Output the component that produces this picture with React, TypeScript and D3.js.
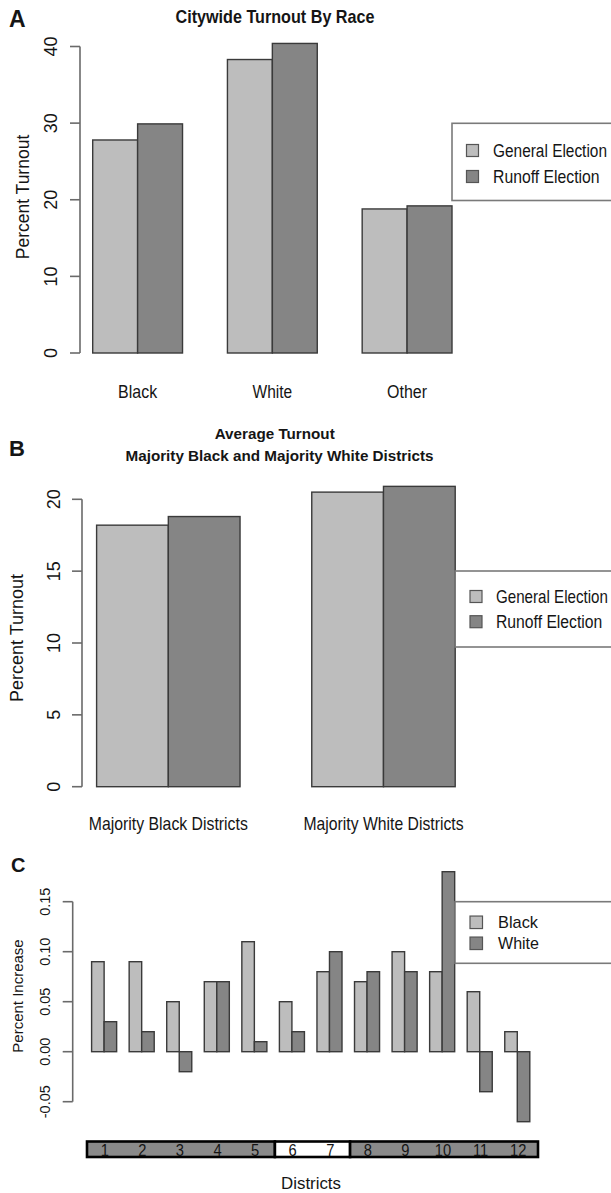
import React, { useLayoutEffect, useRef, useState } from "react";
import * as d3 from "d3";

// ---------- Panel A data ----------
const racesA = ["Black", "White", "Other"];
const generalA = [27.8, 38.3, 18.8];
const runoffA = [29.9, 40.4, 19.2];
const ticksA = [0, 10, 20, 30, 40];

// ---------- Panel B data ----------
const districtTypesB = ["Majority Black Districts", "Majority White Districts"];
const generalB = [18.2, 20.5];
const runoffB = [18.8, 20.9];
const ticksB = [0, 5, 10, 15, 20];

// ---------- Panel C data ----------
const districts = ["1", "2", "3", "4", "5", "6", "7", "8", "9", "10", "11", "12"];
const blackIncrease = [0.09, 0.09, 0.05, 0.07, 0.11, 0.05, 0.08, 0.07, 0.1, 0.08, 0.06, 0.02];
const whiteIncrease = [0.03, 0.02, -0.02, 0.07, 0.01, 0.02, 0.1, 0.08, 0.08, 0.18, -0.04, -0.07];
const ticksC = [-0.05, 0, 0.05, 0.1, 0.15];
const whiteStripDistricts = ["6", "7"];

const electionLegend = ["General Election", "Runoff Election"];
const raceLegend = ["Black", "White"];

const FONT = "'Liberation Sans', Arial, Helvetica, sans-serif";
const LIGHT = "#bdbdbd";
const DARK = "#858585";
const BAR_STROKE = "#3a3a3a";
const AXIS = "#6a6a6a";
const TEXT = "#151515";

// Horizontal text squeezed to a target width with a horizontal scale
function HText(p: any) {
  const ref = useRef<SVGTextElement>(null);
  const [s, setS] = useState(p.sx || 0.87);
  useLayoutEffect(() => {
    if (p.w && ref.current) {
      const n = ref.current.getComputedTextLength();
      if (n > 0) setS(p.w / n);
    }
  }, [p.w, p.children]);
  return (
    <g transform={`translate(${p.x},${p.y}) scale(${p.w ? s : p.sx || 1},1)`}>
      <text
        ref={ref}
        x={0}
        y={0}
        fontSize={p.size}
        fontWeight={p.bold ? "bold" : "normal"}
        textAnchor={p.anchor || "start"}
        fill={TEXT}
        fontFamily={FONT}
      >
        {p.children}
      </text>
    </g>
  );
}

function VText(p: any) {
  return (
    <text
      transform={`translate(${p.x},${p.y}) rotate(-90)`}
      fontSize={p.size}
      textAnchor="middle"
      fill={TEXT}
      fontFamily={FONT}
    >
      {p.children}
    </text>
  );
}

function YAxis(p: any) {
  const { scale, ticks, x, tickLen, labelX, size, fmt } = p;
  const [lo, hi] = d3.extent(ticks) as [number, number];
  return (
    <g>
      <line x1={x} x2={x} y1={scale(lo)} y2={scale(hi)} stroke={AXIS} strokeWidth={1.6} />
      {ticks.map((t: number) => (
        <g key={t}>
          <line x1={x - tickLen} x2={x} y1={scale(t)} y2={scale(t)} stroke={AXIS} strokeWidth={1.6} />
          <VText x={labelX} y={scale(t)} size={size}>
            {fmt ? fmt(t) : String(t)}
          </VText>
        </g>
      ))}
    </g>
  );
}

function Legend(p: any) {
  const { x, y0, y1, sqX, sq, rows, labels, textX, size, widths } = p;
  return (
    <g>
      <rect x={x} y={y0} width={700 - x} height={y1 - y0} fill="white" stroke="#7a7a7a" strokeWidth={1.6} />
      {labels.map((l: string, i: number) => (
        <g key={l}>
          <rect
            x={sqX}
            y={rows[i] - sq / 2}
            width={sq}
            height={sq}
            fill={i === 0 ? LIGHT : DARK}
            stroke="#555"
            strokeWidth={1.2}
          />
          <HText x={textX} y={rows[i] + size * 0.36} size={size} w={widths[i]}>
            {l}
          </HText>
        </g>
      ))}
    </g>
  );
}

function GroupedBars(p: any) {
  const { cats, a, b, outer, y } = p;
  const inner = d3.scaleBand().domain(["a", "b"]).range([0, outer.bandwidth()]);
  return (
    <g>
      {cats.map((c: string, i: number) =>
        [a[i], b[i]].map((v: number, j: number) => {
          const x0 = (outer(c) as number) + (inner(j === 0 ? "a" : "b") as number);
          const yv = y(v);
          const y0 = y(0);
          return (
            <rect
              key={c + j}
              x={x0}
              y={Math.min(yv, y0)}
              width={inner.bandwidth()}
              height={Math.abs(y0 - yv)}
              fill={j === 0 ? LIGHT : DARK}
              stroke={BAR_STROKE}
              strokeWidth={1.4}
            />
          );
        })
      )}
    </g>
  );
}

export default function App() {
  // Panel A scales
  const xA = d3.scaleBand().domain(racesA).range([92.7, 452]).paddingInner(1 / 3);
  const yA = d3.scaleLinear().domain([0, 40]).range([353, 46.5]);
  const labelWA = [39, 39.7, 40];

  // Panel B scales
  const xB = d3.scaleBand().domain(districtTypesB).range([96.6, 455.2]).paddingInner(1 / 3);
  const yB = d3.scaleLinear().domain([0, 20]).range([786.7, 499.3]);

  // Panel C scales
  const xC = d3.scaleBand().domain(districts).range([91.6, 529.8]).paddingInner(1 / 3);
  const yC = d3.scaleLinear().domain([-0.05, 0.15]).range([1101.7, 901.7]);
  const strip = d3.scaleBand().domain(districts).range([87, 538]);

  // runs of strip colour
  const runs: { start: string; end: string; white: boolean }[] = [];
  districts.forEach((d) => {
    const w = whiteStripDistricts.includes(d);
    const last = runs[runs.length - 1];
    if (last && last.white === w) last.end = d;
    else runs.push({ start: d, end: d, white: w });
  });

  return (
    <svg
      width={611}
      height={1193}
      style={{ position: "absolute", left: 0, top: 0, display: "block", background: "white" }}
    >
      <rect x={0} y={0} width={611} height={1193} fill="white" />

      {/* ---------------- Panel A ---------------- */}
      <HText x={9} y={27} size={23} bold>
        A
      </HText>
      <HText x={275} y={22.5} size={17.5} bold anchor="middle" w={199}>
        Citywide Turnout By Race
      </HText>
      <VText x={29} y={197} size={17.5}>
        Percent Turnout
      </VText>
      <YAxis scale={yA} ticks={ticksA} x={80} tickLen={10} labelX={57} size={18} />
      <GroupedBars cats={racesA} a={generalA} b={runoffA} outer={xA} y={yA} />
      {racesA.map((r, i) => (
        <HText key={r} x={(xA(r) as number) + xA.bandwidth() / 2} y={398} size={18.5} anchor="middle" w={labelWA[i]}>
          {r}
        </HText>
      ))}
      <Legend
        x={452}
        y0={123.3}
        y1={200.5}
        sqX={466.5}
        sq={12}
        rows={[150.5, 176.5]}
        labels={electionLegend}
        textX={493}
        size={18}
        widths={[114, 106.7]}
      />

      {/* ---------------- Panel B ---------------- */}
      <HText x={9} y={456} size={22} bold>
        B
      </HText>
      <HText x={274.7} y={439.3} size={15.5} bold anchor="middle" w={120}>
        Average Turnout
      </HText>
      <HText x={279.5} y={460.7} size={15.5} bold anchor="middle" w={308}>
        Majority Black and Majority White Districts
      </HText>
      <VText x={23} y={638} size={18}>
        Percent Turnout
      </VText>
      <YAxis scale={yB} ticks={ticksB} x={82} tickLen={10} labelX={60} size={18} />
      <GroupedBars cats={districtTypesB} a={generalB} b={runoffB} outer={xB} y={yB} />
      {districtTypesB.map((c, i) => (
        <HText key={c} x={(xB(c) as number) + xB.bandwidth() / 2} y={830} size={18} anchor="middle" w={i === 0 ? 159 : 160}>
          {c}
        </HText>
      ))}
      <Legend
        x={455.2}
        y0={571}
        y1={647}
        sqX={470}
        sq={12}
        rows={[596.5, 621.7]}
        labels={electionLegend}
        textX={496}
        size={18}
        widths={[112, 106.3]}
      />

      {/* ---------------- Panel C ---------------- */}
      <HText x={11} y={872} size={20} bold>
        C
      </HText>
      <VText x={23} y={996} size={15}>
        Percent Increase
      </VText>
      <YAxis
        scale={yC}
        ticks={ticksC}
        x={72.7}
        tickLen={10}
        labelX={50}
        size={14.5}
        fmt={(t: number) => t.toFixed(2)}
      />
      <GroupedBars cats={districts} a={blackIncrease} b={whiteIncrease} outer={xC} y={yC} />
      <Legend
        x={455}
        y0={901.7}
        y1={963.3}
        sqX={470}
        sq={12.5}
        rows={[922.3, 943.3]}
        labels={raceLegend}
        textX={498}
        size={16}
        widths={[40, 41]}
      />

      {/* district strip */}
      <g>
        {runs.map((r) => {
          const x0 = strip(r.start) as number;
          const x1 = (strip(r.end) as number) + strip.bandwidth();
          return (
            <rect
              key={r.start}
              x={x0}
              y={1141.5}
              width={x1 - x0}
              height={15.5}
              fill={r.white ? "white" : "#8a8a8a"}
              stroke="#000"
              strokeWidth={2.6}
            />
          );
        })}
        {districts.map((d) => (
          <HText key={d} x={(strip(d) as number) + strip.bandwidth() / 2 - 1} y={1156} size={16} anchor="middle" sx={0.92}>
            {d}
          </HText>
        ))}
      </g>
      <HText x={311} y={1188.5} size={16} anchor="middle" w={60}>
        Districts
      </HText>
    </svg>
  );
}
